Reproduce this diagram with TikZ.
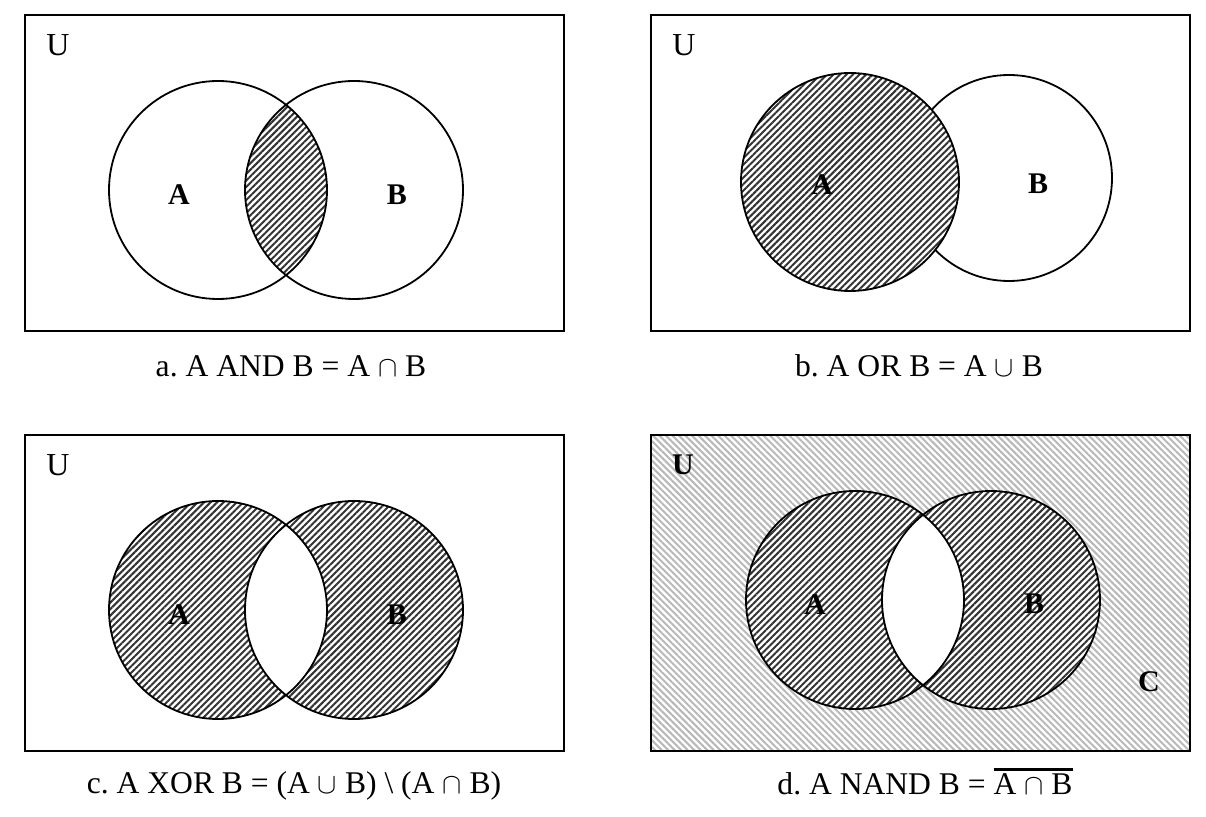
\documentclass[tikz,border=0pt]{standalone}
\usepackage{fontspec}
\setmainfont{Liberation Serif}
\usetikzlibrary{patterns.meta}
\newcommand\myoverbar[1]{\leavevmode\vbox{\hrule height 1.3pt\kern 1.6pt\hbox{#1}}}
\tikzset{
  frame/.style={draw=black, line width=1pt},
  ring/.style={draw=black, line width=0.9pt},
  dark/.style={pattern={Lines[angle=45,distance=2.3pt,line width=1pt]}, pattern color=black!80},
  light/.style={pattern={Lines[angle=-45,distance=2.3pt,line width=1pt]}, pattern color=black!28},
  ulabel/.style={font=\fontsize{16}{18}\selectfont, inner sep=0pt},
  setlabel/.style={font=\fontsize{15}{17}\selectfont\bfseries, inner sep=0pt},
  caption/.style={font=\frenchspacing\fontsize{15.8}{18}\selectfont, inner sep=0pt},
}
\def\R{109}
\begin{document}
\begin{tikzpicture}[x=0.5pt,y=-0.5pt]
\useasboundingbox (0,0) rectangle (1206,817);
% ---------- panel a ----------
\coordinate (aA) at (218,190);
\coordinate (aB) at (354,190);
\begin{scope}
  \clip (aA) circle[radius=\R];
  \fill[dark] (aB) circle[radius=\R];
\end{scope}
\draw[ring] (aA) circle[radius=\R];
\draw[ring] (aB) circle[radius=\R];
\draw[frame] (25,15) rectangle (564,331);
\node[ulabel] (aU) at (58,45) {U};
\node[setlabel] (aLA) at (179,195) {A};
\node[setlabel] (aLB) at (397,195) {B};
\node[caption] (capa) at (291,366) {a. A AND B = A $\cap$ B};
% ---------- panel b ----------
\coordinate (bA) at (850,182);
\coordinate (bB) at (1009,178);
\draw[ring] (bB) circle[radius=103];
\fill[white] (bA) circle[radius=\R];
\fill[dark] (bA) circle[radius=\R];
\draw[ring] (bA) circle[radius=\R];
\draw[frame] (651,15) rectangle (1190,331);
\node[ulabel] (bU) at (684,45) {U};
\node[setlabel] (bLA) at (822,185) {A};
\node[setlabel] (bLB) at (1038,184) {B};
\node[caption] (capb) at (919,366) {b. A OR B = A $\cup$ B};
% ---------- panel c ----------
\coordinate (cA) at (218,610);
\coordinate (cB) at (354,610);
\fill[dark] (cA) circle[radius=\R];
\fill[dark] (cB) circle[radius=\R];
\begin{scope}
  \clip (cA) circle[radius=\R];
  \fill[white] (cB) circle[radius=\R];
\end{scope}
\draw[ring] (cA) circle[radius=\R];
\draw[ring] (cB) circle[radius=\R];
\draw[frame] (25,435) rectangle (564,751);
\node[ulabel] (cU) at (58,465) {U};
\node[setlabel] (cLA) at (179,615) {A};
\node[setlabel] (cLB) at (397,615) {B};
\node[caption] (capc) at (294,786) {c. A XOR B = (A $\cup$ B) \textbackslash\ (A $\cap$ B)};
% ---------- panel d ----------
\coordinate (dA) at (855,600);
\coordinate (dB) at (991,600);
\fill[light] (651,435) rectangle (1190,751);
\fill[white] (dA) circle[radius=\R];
\fill[white] (dB) circle[radius=\R];
\fill[dark] (dA) circle[radius=\R];
\fill[dark] (dB) circle[radius=\R];
\begin{scope}
  \clip (dA) circle[radius=\R];
  \fill[white] (dB) circle[radius=\R];
\end{scope}
\draw[ring] (dA) circle[radius=\R];
\draw[ring] (dB) circle[radius=\R];
\draw[frame] (651,435) rectangle (1190,751);
\node[setlabel] (dU) at (683,465) {U};
\node[setlabel] (dLA) at (815,605) {A};
\node[setlabel] (dLB) at (1034,604) {B};
\node[setlabel] (dLC) at (1149,682) {C};
\node[caption, anchor=base] (capd) at (925,795) {d. A NAND B = \myoverbar{A $\cap$ B}};
\end{tikzpicture}
\end{document}
